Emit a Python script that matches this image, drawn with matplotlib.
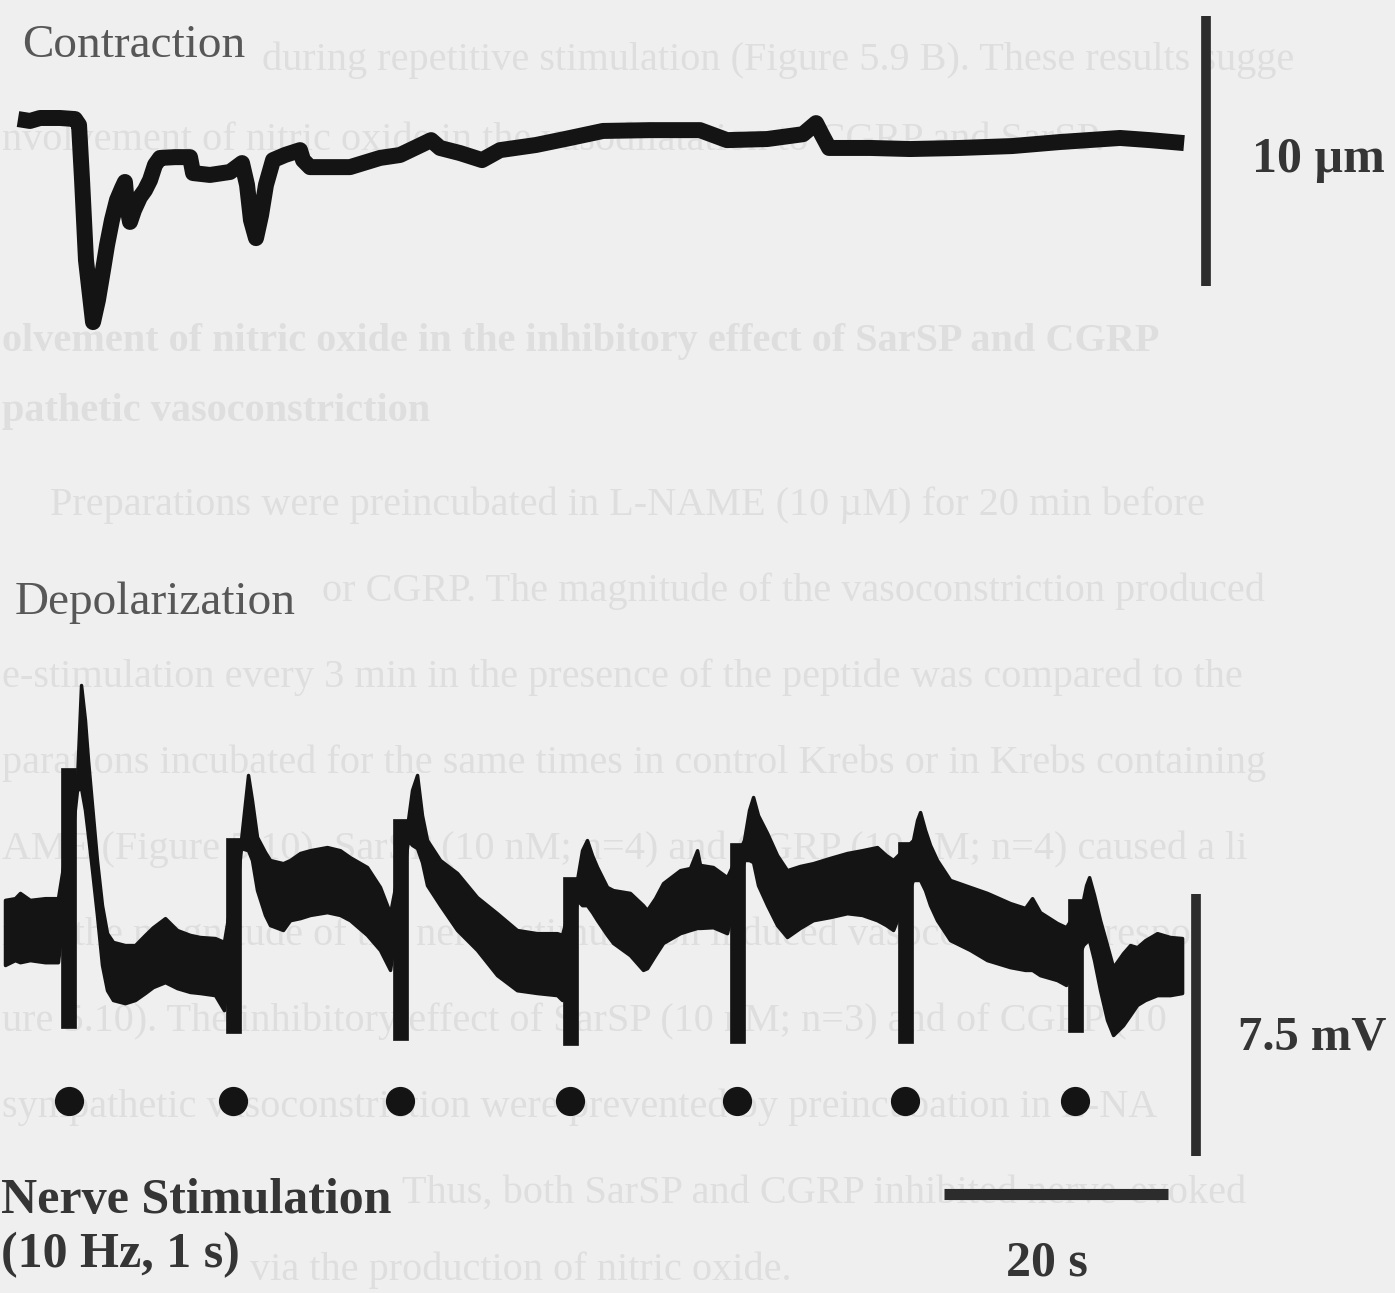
import matplotlib
matplotlib.use("Agg")
import matplotlib.pyplot as plt

# ---------------------------------------------------------------------------
# Recorded data
# ---------------------------------------------------------------------------
# Nerve stimulation trains (10 Hz, 1 s), onset times in seconds
stim_times = [5.67, 20.40, 35.31, 50.45, 65.36, 80.36, 95.54]

# Stimulus artifact extent on the membrane potential record (mV)
artifact_top = [4.66, 2.66, 3.20, 1.54, 2.51, 2.54, 0.91]
artifact_bottom = [-2.77, -2.91, -3.11, -3.26, -3.20, -3.20, -2.89]

# Arteriole diameter change (um) versus time (s)
contraction_t = [1.16, 2.23, 3.13, 4.91, 6.25, 6.61, 6.88, 7.23, 7.86, 8.30,
                 8.75, 9.11, 9.55, 10.00, 10.45, 10.71, 10.89, 11.16, 11.52,
                 12.05, 12.50, 12.95, 13.39, 13.84, 15.18, 16.52, 16.79,
                 18.30, 20.09, 21.16, 21.61, 21.96, 22.41, 22.86, 23.30,
                 23.93, 25.00, 26.34, 26.61, 27.23, 29.02, 30.80, 33.48,
                 35.27, 38.04, 38.84, 40.63, 42.59, 44.20, 47.41, 50.45,
                 53.39, 57.59, 62.05, 64.46, 68.04, 71.25, 72.41, 72.95,
                 73.57, 77.23, 80.80, 85.27, 89.91, 94.20, 99.55, 102.23,
                 105.27]
contraction_um = [0.00, -0.07, 0.04, 0.04, 0.00, -0.22, -2.26, -5.22, -7.52,
                  -6.70, -5.59, -4.67, -3.74, -3.00, -2.56, -2.33, -3.19,
                  -3.81, -3.37, -2.89, -2.63, -2.26, -1.70, -1.44, -1.41,
                  -1.41, -2.00, -2.07, -1.96, -1.63, -2.44, -3.74, -4.41,
                  -3.56, -2.44, -1.52, -1.33, -1.15, -1.52, -1.78, -1.78,
                  -1.78, -1.44, -1.33, -0.78, -1.07, -1.26, -1.52, -1.15,
                  -0.96, -0.70, -0.44, -0.41, -0.41, -0.78, -0.74, -0.56,
                  -0.15, -0.59, -1.07, -1.07, -1.11, -1.07, -1.00, -0.85,
                  -0.70, -0.78, -0.89]

# Membrane potential (mV): upper and lower edge of the noisy recording band
depol_t = [0.00, 0.89, 1.34, 2.23, 3.57, 4.73,
           6.43, 6.79, 7.14, 7.41, 7.77, 8.21, 8.66, 9.11, 9.64, 10.71,
           11.61, 12.50, 13.21, 14.29, 15.36, 16.52, 17.41, 18.75, 19.55,
           21.07, 21.70, 22.05, 22.50, 23.21, 23.66, 24.82, 25.45, 26.34,
           27.23, 28.75, 29.91, 30.80, 32.32, 33.48, 34.38,
           35.98, 36.34, 36.79, 37.23, 37.68, 38.84, 40.36, 42.14, 43.93,
           45.71, 47.50, 49.29, 49.73,
           51.07, 51.52, 51.96, 52.41, 52.86, 53.75, 54.29, 55.80, 56.96,
           57.32, 58.04, 58.75, 60.27, 61.16, 61.79, 62.05, 63.21, 64.46,
           65.98, 66.43, 66.79, 67.23, 68.04, 68.93, 69.82, 70.98, 72.14,
           73.66, 75.18, 76.52, 77.86, 78.66, 79.29,
           81.07, 81.43, 81.70, 82.14, 82.59, 83.21, 84.38, 86.16, 87.68,
           89.73, 91.07, 91.70, 92.41, 93.93, 94.73,
           96.25, 96.52, 96.79, 97.23, 97.77, 98.39, 98.93, 99.38, 99.82,
           100.45, 101.07, 101.79, 102.86, 104.02, 105.09]
depol_upper = [0.89, 0.94, 1.09, 0.89, 0.94, 0.94,
               4.31, 7.03, 6.03, 4.89, 3.60, 2.03, 0.74, -0.06, -0.31, -0.40,
               -0.40, -0.11, 0.11, 0.37, 0.03, -0.11, -0.17, -0.20, -0.31,
               2.60, 4.46, 3.74, 2.69, 2.26, 2.03, 1.94, 2.03, 2.23,
               2.31, 2.40, 2.31, 2.11, 1.83, 1.26, 0.51,
               3.17, 4.03, 4.46, 3.31, 2.60, 2.03, 1.66, 0.97, 0.51,
               0.03, -0.06, -0.06, -0.11,
               1.46, 2.31, 2.60, 2.17, 1.83, 1.26, 1.17, 1.09, 0.74,
               0.60, 0.94, 1.37, 1.74, 1.80, 2.31, 1.89, 1.83, 1.54,
               2.60, 3.46, 3.83, 3.31, 2.80, 2.17, 1.74, 1.86, 1.94,
               2.09, 2.23, 2.31, 2.40, 2.17, 2.03,
               2.60, 3.17, 3.40, 2.89, 2.46, 2.03, 1.46, 1.26, 1.09,
               0.80, 0.66, 0.94, 0.54, 0.23, 0.11,
               0.89, 1.31, 1.54, 1.03, 0.31, -0.40, -1.03, -0.83, -0.63,
               -0.40, -0.46, -0.26, -0.06, -0.17, -0.20]
depol_lower = [-0.97, -0.83, -0.89, -0.83, -0.89, -0.89,
               4.03, 4.09, 3.46, 2.74, 1.74, 0.46, -0.97, -1.69, -1.97, -2.06,
               -1.97, -1.77, -1.60, -1.46, -1.63, -1.74, -1.77, -1.83, -2.26,
               2.37, 2.31, 2.03, 1.17, 0.46, 0.17, 0.03, 0.31, 0.37,
               0.46, 0.54, 0.46, 0.31, -0.11, -0.54, -1.11,
               2.60, 2.46, 2.37, 1.97, 1.31, 0.74, 0.03, -0.54, -1.26,
               -1.69, -1.77, -1.83, -1.97,
               0.89, 0.74, 0.74, 0.54, 0.31, -0.11, -0.34, -0.69, -1.11,
               -1.06, -0.69, -0.34, -0.06, 0.03, 0.09, 0.09, 0.11, -0.06,
               2.03, 2.03, 1.97, 1.31, 0.74, 0.17, -0.17, 0.09, 0.31,
               0.40, 0.51, 0.46, 0.31, 0.17, 0.03,
               1.46, 1.46, 1.46, 1.17, 0.74, 0.31, -0.26, -0.54, -0.83,
               -1.03, -1.11, -1.11, -1.26, -1.40, -1.54,
               -0.40, -0.31, -0.26, -0.83, -1.69, -2.54, -2.97, -2.83, -2.69,
               -2.40, -2.11, -1.97, -1.83, -1.83, -1.77]

# Calibration bars
scale_um = 10
scale_mv = 7.5
scale_s = 20

# ---------------------------------------------------------------------------
# Page styling
# ---------------------------------------------------------------------------
PAPER = "#efefef"
INK = "#141414"
BAR = "#2c2c2c"
LABEL = "#353535"
GHOST = "#dedede"
SERIF = ["Liberation Serif", "DejaVu Serif"]

W, H = 1395, 1293
fig = plt.figure(figsize=(W / 100, H / 100), dpi=100, facecolor=PAPER)


def fx(px):
    return px / W


def fy(py):
    return 1 - py / H


# Faint show-through of the text printed on the other side of the sheet
ghost_lines = [
    (60, 262, "during repetitive stimulation (Figure 5.9 B). These results sugge", "normal"),
    (140, 2, "nvolvement of nitric oxide in the vasodilatation to CGRP and SarSP.", "normal"),
    (342, 2, "olvement of nitric oxide in the inhibitory effect of SarSP and CGRP", "bold"),
    (412, 2, "pathetic vasoconstriction", "bold"),
    (505, 50, "Preparations were preincubated in L-NAME (10 µM) for 20 min before", "normal"),
    (591, 322, "or CGRP. The magnitude of the vasoconstriction produced", "normal"),
    (677, 2, "e-stimulation every 3 min in the presence of the peptide was compared to the", "normal"),
    (763, 2, "parations incubated for the same times in control Krebs or in Krebs containing", "normal"),
    (849, 2, "AME (Figure 5.10). SarSP (10 nM; n=4) and CGRP (10 nM; n=4) caused a li", "normal"),
    (935, 2, "n in the magnitude of the nerve-stimulation induced vasoconstrictor respo", "normal"),
    (1021, 2, "ure 5.10). The inhibitory effect of SarSP (10 nM; n=3) and of CGRP (10", "normal"),
    (1107, 2, "sympathetic vasoconstriction were prevented by preincubation in L-NA", "normal"),
    (1193, 402, "Thus, both SarSP and CGRP inhibited nerve-evoked", "normal"),
    (1270, 250, "via the production of nitric oxide.", "normal"),
]
for ypx, xpx, txt, wt in ghost_lines:
    fig.text(fx(xpx), fy(ypx), txt, family=SERIF, fontsize=29, fontweight=wt,
             color=GHOST, ha="left", va="center", zorder=-5)

# ---------------------------------------------------------------------------
# Axes: a shared time base, one vertical scale per recording
# ---------------------------------------------------------------------------
t_left, t_right = -0.446, 124.1

ax_c = fig.add_axes([0, 0, 1, 1])
ax_c.set_xlim(t_left, t_right)
ax_c.set_ylim(-43.48, 4.41)
ax_c.set_facecolor("none")
ax_c.axis("off")

ax_d = fig.add_axes([0, 0, 1, 1])
ax_d.set_xlim(t_left, t_right)
ax_d.set_ylim(-10.34, 26.6)
ax_d.set_facecolor("none")
ax_d.axis("off")

# Diameter trace
ax_c.plot(contraction_t, contraction_um, color=INK, lw=11.5,
          solid_joinstyle="round", solid_capstyle="butt")

# 10 um calibration
bar_um_t, bar_um_y0 = 107.2, -6.19
ax_c.plot([bar_um_t, bar_um_t], [bar_um_y0, bar_um_y0 + scale_um],
          color=BAR, lw=7, solid_capstyle="butt")

# Membrane potential band
ax_d.fill_between(depol_t, depol_lower, depol_upper, color=INK, lw=2.5,
                  edgecolor=INK, joinstyle="round")

# Stimulus artifacts
heights = [t - b for t, b in zip(artifact_top, artifact_bottom)]
ax_d.bar(stim_times, heights, bottom=artifact_bottom, width=1.35,
         color=INK, edgecolor=INK, lw=0.5)

# Stimulation markers
dot_level = -4.85
ax_d.plot(stim_times, [dot_level] * len(stim_times), "o", ms=20,
          color=INK, mec=INK)

# 7.5 mV calibration
bar_mv_t, bar_mv_y0 = 106.3, -6.43
ax_d.plot([bar_mv_t, bar_mv_t], [bar_mv_y0, bar_mv_y0 + scale_mv],
          color=BAR, lw=7, solid_capstyle="butt")

# 20 s calibration
bar_s_t0, bar_s_y = 83.8, -7.51
ax_d.plot([bar_s_t0, bar_s_t0 + scale_s], [bar_s_y, bar_s_y],
          color=BAR, lw=8, solid_capstyle="butt")

# ---------------------------------------------------------------------------
# Labels
# ---------------------------------------------------------------------------
fig.text(fx(22), fy(57), "Contraction", family=SERIF, fontsize=34,
         color="#575757", ha="left", va="baseline")
fig.text(fx(15), fy(614), "Depolarization", family=SERIF, fontsize=34,
         color="#575757", ha="left", va="baseline")

fig.text(fx(1252), fy(172), f"{scale_um} µm", family=SERIF, fontsize=36,
         fontweight="bold", color=LABEL, ha="left", va="baseline")
fig.text(fx(1238), fy(1050), f"{scale_mv} mV", family=SERIF, fontsize=35,
         fontweight="bold", color=LABEL, ha="left", va="baseline")
fig.text(fx(1047), fy(1275), f"{scale_s} s", family=SERIF, fontsize=36,
         fontweight="bold", color=LABEL, ha="center", va="baseline")

fig.text(fx(1), fy(1213), "Nerve Stimulation", family=SERIF, fontsize=36,
         fontweight="bold", color=LABEL, ha="left", va="baseline")
fig.text(fx(1), fy(1267), "(10 Hz, 1 s)", family=SERIF, fontsize=36,
         fontweight="bold", color=LABEL, ha="left", va="baseline")

fig.savefig("out.png", dpi=100, facecolor=PAPER)
